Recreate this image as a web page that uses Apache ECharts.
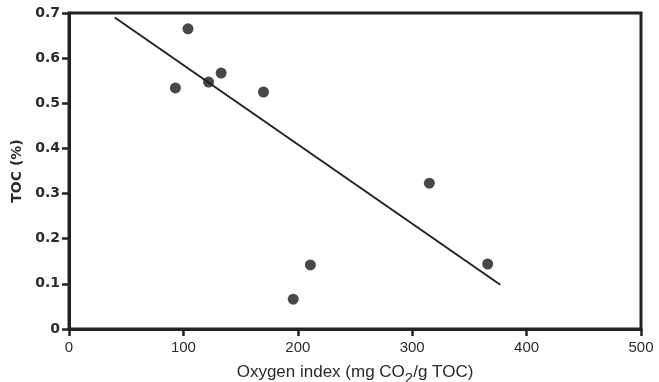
<!DOCTYPE html>
<html>
<head>
<meta charset="utf-8">
<script src="https://cdn.jsdelivr.net/npm/echarts@6/dist/echarts.min.js"></script>
<style>html,body{margin:0;padding:0;background:#fff;}#c{width:659px;height:382px;}</style>
</head>
<body>
<div id="c"></div>
<script>
const oxygenIndex = [93, 104, 122, 133, 170, 196, 211, 315, 366];
const tocPercent = [0.534, 0.665, 0.547, 0.567, 0.525, 0.066, 0.142, 0.323, 0.144];
const fitX = [40, 377];
const fitY = [0.69, 0.098];
const xTicks = [0, 100, 200, 300, 400, 500];
const yTicks = [0, 0.1, 0.2, 0.3, 0.4, 0.5, 0.6, 0.7];

const chart = echarts.init(document.getElementById('c'));
const ink = '#222';
const txt = '#2b2b2b';
chart.setOption({
  backgroundColor: '#fff',
  animation: false,
  grid: { left: 69, top: 13, right: 18, bottom: 53, containLabel: false, outerBoundsMode: 'none',
    show: true, borderColor: ink, borderWidth: 3, backgroundColor: 'transparent' },
  xAxis: {
    type: 'value', min: xTicks[0], max: xTicks[xTicks.length - 1], interval: 100,
    name: 'Oxygen index (mg CO{sub|2}/g TOC)', nameLocation: 'middle', nameGap: 30,
    nameTextStyle: { color: txt, fontFamily: 'Liberation Sans', fontSize: 17,
      rich: { sub: { fontSize: 15, fontFamily: 'Liberation Sans', color: txt, padding: [12, 0, 0, 0] } } },
    axisLine: { show: true, lineStyle: { color: ink, width: 3 } },
    axisTick: { show: true, length: 7, lineStyle: { color: ink, width: 2.5 } },
    axisLabel: { color: txt, fontFamily: 'Liberation Sans', fontSize: 15, margin: 11 },
    splitLine: { show: false }
  },
  yAxis: {
    type: 'value', min: yTicks[0], max: yTicks[yTicks.length - 1], interval: 0.1,
    name: 'TOC (%)', nameLocation: 'middle', nameGap: 41, nameRotate: 90,
    nameTextStyle: { color: txt, fontFamily: 'DejaVu Sans', fontSize: 14, fontWeight: 'bold' },
    axisLine: { show: true, lineStyle: { color: ink, width: 3 } },
    axisTick: { show: true, length: 7, lineStyle: { color: ink, width: 2.5 } },
    axisLabel: { color: txt, fontFamily: 'DejaVu Sans', fontSize: 14, fontWeight: 'bold', margin: 9,
      formatter: v => (v === 0 ? '0' : v.toFixed(1)) },
    splitLine: { show: false }
  },
  series: [
    { type: 'line', data: fitX.map((x, i) => [x, fitY[i]]), symbol: 'none',
      lineStyle: { color: ink, width: 2 }, z: 2 },
    { type: 'scatter', data: oxygenIndex.map((x, i) => [x, tocPercent[i]]), symbol: 'circle', symbolSize: 11,
      itemStyle: { color: '#1a1a1a' }, z: 3 }
  ]
});
</script>
</body>
</html>
